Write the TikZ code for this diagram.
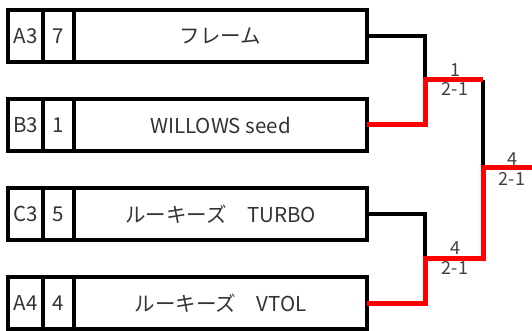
\documentclass[tikz,border=0pt]{standalone}
\usepackage{fontspec}
\setmainfont{Noto Sans CJK JP}
\usetikzlibrary{positioning}

\begin{document}
\begin{tikzpicture}[x=1pt,y=-1pt,node distance=0pt,
	cell/.style	={rectangle,draw,line width=3.2pt,inner sep=0pt,outer sep=0pt,minimum height=52pt,text=black!80,font=\fontsize{20.5}{24}\selectfont},
	block/.style	={cell,minimum width=35pt},
	seed/.style	={cell,minimum width=31pt},
	team/.style	={cell,minimum width=293pt},
	lose/.style	={line width=3.2pt,line join=miter},
	win/.style	={line width=5pt,red,line join=miter},
	score/.style	={inner sep=0pt,text=black!75,font=\fontsize{18}{20}\selectfont},
	]
	\useasboundingbox (0,0) rectangle (532,331);
	
	\node [block,anchor=north west] (BA) at (8,10) {A3};
	\node [seed] (SA) [right=of BA] {7};
	\node [team] (TA) [right=of SA] {フレーム};
	\node [block,anchor=north west] (BB) at (8,99) {B3};
	\node [seed] (SB) [right=of BB] {1};
	\node [team] (TB) [right=of SB] {WILLOWS seed};
	\node [block,anchor=north west] (BC) at (8,188) {C3};
	\node [seed] (SC) [right=of BC] {5};
	\node [team] (TC) [right=of SC] {ルーキーズ\quad TURBO};
	\node [block,anchor=north west] (BD) at (8,277) {A4};
	\node [seed] (SD) [right=of BD] {4};
	\node [team] (TD) [right=of SD] {ルーキーズ\quad VTOL};
	
	% semi finals
	\coordinate (M1) at (425,80);
	\coordinate (M2) at (425,258);
	\coordinate (F1) at (483,80);
	\coordinate (F2) at (483,258);
	\coordinate (W) at (483,168);
	\coordinate (E) at (533,168);
	
	\draw [lose] (TA.east) -| (M1);
	\draw [lose] (TC.east) -| (M2);
	\draw [lose] (F1) -- (W);
	\draw [win] (TB.east) -| (M1) -- (F1);
	\draw [win] (TD.east) -| (M2) -- (F2) -- (W) -- (E);
	
	\node [score] (s1) at (455,70) {1};
	\node [score] (r1) at (455,89) {2-1};
	\node [score] (s2) at (455,248) {4};
	\node [score] (r2) at (455,268) {2-1};
	\node [score] (s3) at (512,159) {4};
	\node [score] (r3) at (512,179) {2-1};
\end{tikzpicture}
\end{document}
